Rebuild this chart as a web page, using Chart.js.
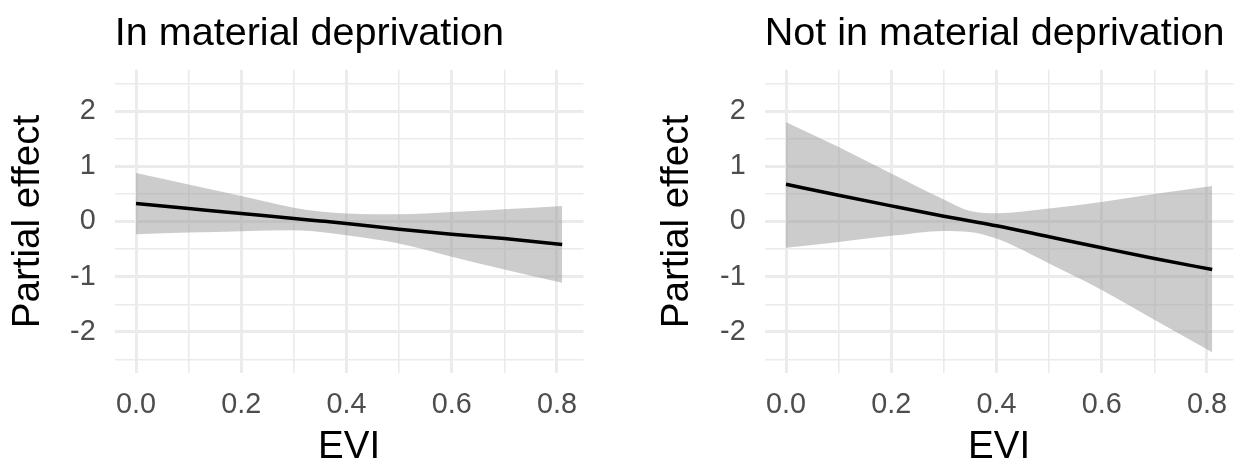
<!DOCTYPE html>
<html>
<head>
<meta charset="utf-8">
<script src="https://cdn.jsdelivr.net/npm/chart.js@4"></script>
<style>
html,body{margin:0;padding:0;background:#fff;}
#wrap{position:relative;width:1245px;height:468px;}
canvas{position:absolute;top:0;}
</style>
</head>
<body>
<div id="wrap">
<canvas id="c1" width="620" height="468" style="left:0px"></canvas>
<canvas id="c2" width="625" height="468" style="left:620px"></canvas>
</div>
<script>
// valeurs (effet partiel de l'EVI)
const evi = [0, 0.1, 0.2, 0.3, 0.35, 0.4, 0.5, 0.6, 0.7, 0.81]

// en privation materielle
const inFit   = [0.325, 0.235, 0.145, 0.054, 0.01, -0.036, -0.14, -0.23, -0.31, -0.415]
const inUpper = [0.88, 0.67, 0.46, 0.25, 0.18, 0.145, 0.13, 0.17, 0.22, 0.28]
const inLower = [-0.23, -0.2, -0.175, -0.16, -0.19, -0.25, -0.4, -0.64, -0.87, -1.11]

// pas en privation materielle
const notFit   = [0.675, 0.476, 0.283, 0.096, 0.01, -0.078, -0.277, -0.476, -0.67, -0.87]
const notUpper = [1.8, 1.35, 0.87, 0.4, 0.19, 0.15, 0.235, 0.355, 0.5, 0.645]
const notLower = [-0.476, -0.37, -0.26, -0.17, -0.19, -0.31, -0.76, -1.24, -1.78, -2.37]

const xMajor = [0, 0.2, 0.4, 0.6, 0.8]
const xMinor = [0.1, 0.3, 0.5, 0.7]
const yMajor = [-2, -1, 0, 1, 2]
const yMinor = [-2.5, -1.5, -0.5, 0.5, 1.5, 2.5]

const titles = ["In material deprivation", "Not in material deprivation"]
const family = '"Liberation Sans", Arial, sans-serif'
const gridColor = '#ebebeb'

function isMajor(list, v){
    return list.some(m => Math.abs(m - v) < 1e-9)
}

function pts(ys){
    return evi.map((x, i) => ({x: x, y: ys[i]}))
}

// titre du panneau, aligne sur la zone du graph (comme ggplot)
const panelTitle = {
    id: 'panelTitle',
    afterDraw(chart, args, opts){
        const ctx = chart.ctx
        ctx.save()
        ctx.font = '39.6px ' + family
        ctx.fillStyle = '#000'
        ctx.textAlign = 'left'
        ctx.textBaseline = 'alphabetic'
        ctx.fillText(opts.text, chart.chartArea.left, opts.y)
        ctx.restore()
    }
}

function makePanel(id, title, fit, upper, lower, lay){
    return new Chart(document.getElementById(id), {
        type: 'line',
        data: {
            datasets: [
                {data: pts(fit), borderColor: '#000', borderWidth: 3.5, pointRadius: 0, fill: false, cubicInterpolationMode: 'monotone'},
                {data: pts(upper), borderColor: 'transparent', borderWidth: 0, pointRadius: 0, fill: '+1', backgroundColor: 'rgba(153,153,153,0.5)', cubicInterpolationMode: 'monotone'},
                {data: pts(lower), borderColor: 'transparent', borderWidth: 0, pointRadius: 0, fill: false, cubicInterpolationMode: 'monotone'}
            ]
        },
        options: {
            responsive: false,
            animation: false,
            devicePixelRatio: 1,
            layout: {padding: {left: lay.padLeft, right: lay.padRight, top: 69.7, bottom: 0}},
            plugins: {
                legend: {display: false},
                tooltip: {enabled: false},
                panelTitle: {text: title, y: 45}
            },
            scales: {
                x: {
                    type: 'linear', min: -0.0405, max: 0.8505,
                    afterBuildTicks: ax => { ax.ticks = xMajor.concat(xMinor).sort((a, b) => a - b).map(v => ({value: v})) },
                    afterFit: ax => { ax.height = 94.7 },
                    grid: {color: gridColor, lineWidth: c => isMajor(xMajor, c.tick.value) ? 2.9 : 1.6, drawTicks: false},
                    border: {display: false},
                    ticks: {padding: 14.7, color: '#4d4d4d', font: {size: 28.8, family: family}, maxRotation: 0, autoSkip: false,
                        callback: v => isMajor(xMajor, v) ? v.toFixed(1) : ''},
                    title: {display: true, text: 'EVI', color: '#000', font: {size: 38.5, family: family, lineHeight: 1}, padding: {top: 0, bottom: 1.2}}
                },
                y: {
                    type: 'linear', min: -2.75, max: 2.75,
                    afterBuildTicks: ax => { ax.ticks = yMinor.concat(yMajor).sort((a, b) => a - b).map(v => ({value: v})) },
                    afterFit: ax => { ax.width = lay.axisW },
                    grid: {color: gridColor, lineWidth: c => isMajor(yMajor, c.tick.value) ? 2.9 : 1.6, drawTicks: false},
                    border: {display: false},
                    ticks: {padding: 19, color: '#4d4d4d', font: {size: 28.8, family: family}, autoSkip: false,
                        callback: v => isMajor(yMajor, v) ? String(v) : ''},
                    title: {display: true, text: 'Partial effect', color: '#000', font: {size: 38.5, family: family, lineHeight: 1}, padding: {top: 9.5, bottom: 0}}
                }
            }
        },
        plugins: [panelTitle]
    })
}

makePanel('c1', titles[0], inFit, inUpper, inLower, {padLeft: 0, axisW: 114.7, padRight: 36.5})
makePanel('c2', titles[1], notFit, notUpper, notLower, {padLeft: 28.5, axisW: 116.2, padRight: 11.5})
</script>
</body>
</html>
